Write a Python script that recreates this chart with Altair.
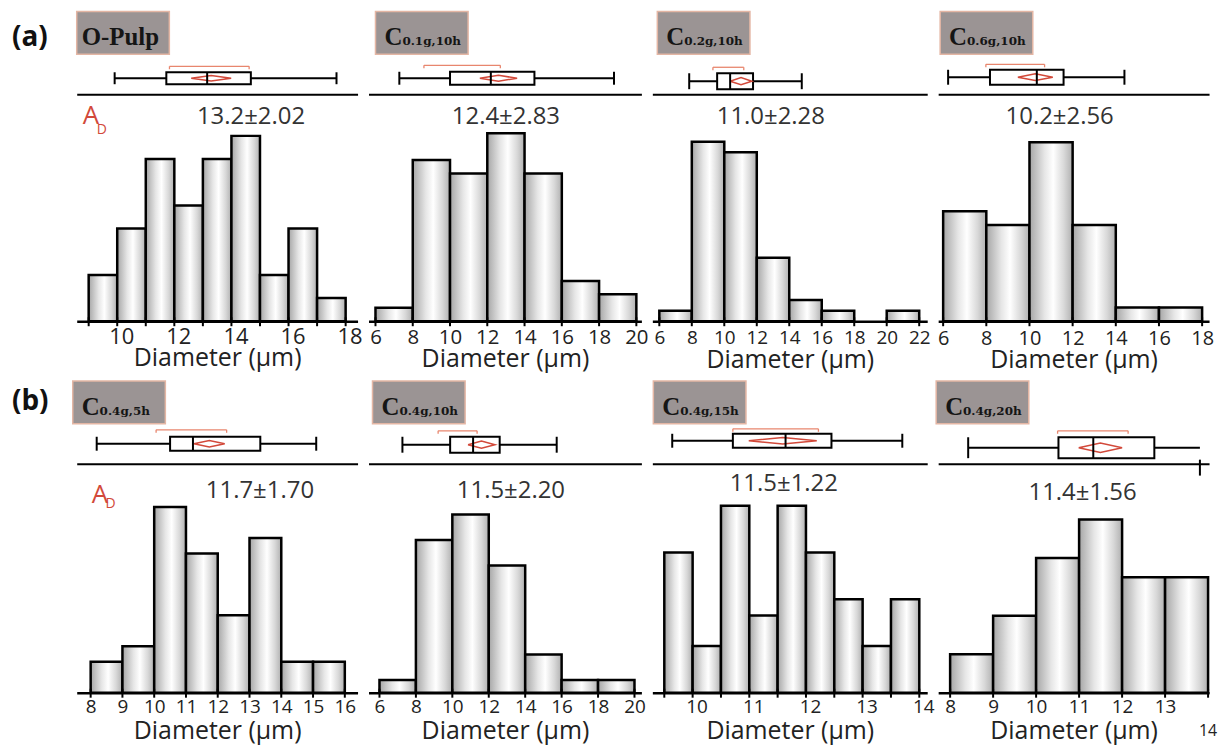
import altair as alt
import pandas as pd

# ---------------- data ----------------
panel_names = ["O-Pulp", "C", "C", "C", "C", "C", "C", "C"]
panel_subs = ["", "0.1g,10h", "0.2g,10h", "0.6g,10h", "0.4g,5h", "0.4g,10h", "0.4g,15h", "0.4g,20h"]
mean_sd = ["13.2±2.02", "12.4±2.83", "11.0±2.28", "10.2±2.56",
           "11.7±1.70", "11.5±2.20", "11.5±1.22", "11.4±1.56"]

edges_1 = [9, 10, 11, 12, 13, 14, 15, 16, 17, 18]
counts_1 = [2, 4, 7, 5, 7, 8, 2, 4, 1]
edges_2 = [6, 8, 10, 12, 14, 16, 18, 20]
counts_2 = [1, 12, 11, 14, 11, 3, 2]
edges_3 = [6, 8, 10, 12, 14, 16, 18, 20, 22]
counts_3 = [1, 17, 16, 6, 2, 1, 0, 1]
edges_4 = [6, 8, 10, 12, 14, 16, 18]
counts_4 = [8, 7, 13, 7, 1, 1]
edges_5 = [8, 9, 10, 11, 12, 13, 14, 15, 16]
counts_5 = [2, 3, 12, 9, 5, 10, 2, 2]
edges_6 = [6, 8, 10, 12, 14, 16, 18, 20]
counts_6 = [1, 12, 14, 10, 3, 1, 1]
edges_7 = [9.5, 10, 10.5, 11, 11.5, 12, 12.5, 13, 13.5, 14]
counts_7 = [6, 2, 8, 3.3, 8, 6, 4, 2, 4]
edges_8 = [8, 9, 10, 11, 12, 13, 14]
counts_8 = [2, 4, 7, 9, 6, 6]

tick_labels_1 = [10, 12, 14, 16, 18]
tick_labels_2 = [6, 8, 10, 12, 14, 16, 18, 20]
tick_labels_3 = [6, 8, 10, 12, 14, 16, 18, 20, 22]
tick_labels_4 = [6, 8, 10, 12, 14, 16, 18]
tick_labels_5 = [8, 9, 10, 11, 12, 13, 14, 15, 16]
tick_labels_6 = [6, 8, 10, 12, 14, 16, 18, 20]
tick_labels_7 = [10, 11, 12, 13, 14]
tick_labels_8 = [8, 9, 10, 11, 12, 13]
extra_label_8 = [14]

# box plots: whisker low, Q1, median, Q3, whisker high
box_1 = [9.91, 11.72, 13.15, 14.68, 17.68]
box_2 = [7.28, 10.0, 12.19, 14.53, 18.8]
box_3 = [7.84, 9.56, 10.36, 11.77, 14.77]
box_4 = [6.23, 8.17, 10.34, 11.58, 14.4]
box_5 = [8.19, 10.5, 11.22, 13.34, 15.1]
box_6 = [7.26, 9.88, 11.14, 12.6, 15.73]
box_7 = [9.64, 10.71, 11.64, 12.45, 13.7]
box_8 = [8.42, 10.52, 11.33, 12.75, 13.81]
# mean diamonds (low, high) and shortest-half brackets (low, high)
diamond_1 = [12.59, 13.99]; bracket_1 = [11.83, 14.62]
diamond_2 = [11.6, 13.6];   bracket_2 = [8.6, 12.7]
diamond_3 = [10.36, 11.7];  bracket_3 = [9.3, 11.2]
diamond_4 = [9.46, 11.08];  bracket_4 = [7.98, 10.7]
diamond_5 = [11.25, 12.22]; bracket_5 = [10.06, 12.28]
diamond_6 = [10.86, 12.34]; bracket_6 = [9.22, 11.36]
diamond_7 = [10.99, 12.19]; bracket_7 = [10.71, 12.22]
diamond_8 = [10.99, 12.0];  bracket_8 = [10.5, 12.14]

edges = [edges_1, edges_2, edges_3, edges_4, edges_5, edges_6, edges_7, edges_8]
counts = [counts_1, counts_2, counts_3, counts_4, counts_5, counts_6, counts_7, counts_8]
tick_labels = [tick_labels_1, tick_labels_2, tick_labels_3, tick_labels_4,
               tick_labels_5, tick_labels_6, tick_labels_7, tick_labels_8]
boxes = [box_1, box_2, box_3, box_4, box_5, box_6, box_7, box_8]
diamonds = [diamond_1, diamond_2, diamond_3, diamond_4, diamond_5, diamond_6, diamond_7, diamond_8]
brackets = [bracket_1, bracket_2, bracket_3, bracket_4, bracket_5, bracket_6, bracket_7, bracket_8]

# ---------------- layout / style ----------------
col_left = [77, 370, 655, 942]          # page x of each column's plot area
col_width = [282, 274, 276, 272]
# scale anchors measured on the figure: (value, page x, px per unit)
anchors = [(9, 89, 28.67), (6, 377, 18.71), (6, 662, 16.31), (6, 947, 21.67),
           (8, 91, 31.9), (6, 381, 18.29), (9.5, 667, 56.9), (8, 954, 43.17)]
y_max = [9.8, 16.9, 21.5, 16.5, 14.8, 18.0, 9.8, 11.9]
label_left = [0, 7, 5, 2, -4, 4, 1, -2]
mean_pos = [(175, 23), (138, 23), (119, 23), (122, 23), (184, 27), (143, 27), (132, 20), (145, 29)]
box_center = [67, 67, 70, 66, 63, 64, 60, 67]
box_half = [6, 6.5, 8, 7.5, 7, 8, 7, 10.5]
bracket_y = [55, 54, 56, 53, 49, 50, 48, 50]
label_offsets = [4, 0, 0, 0, 0, 0, 4, 0]
label_sizes = [22, 20.5, 19, 20, 19, 19, 19, 19]
label_pad = [5, 6, 7, 7, 5, 5, 5, 5]
title_pad = [-2, -1, 0, -1, 2, 2, 2, 2]
TOP_H = 83
ROW_GAP = 60
HIST_H = [228, 230]
SANS = "Open Sans"
RED = "#d2493a"
SALMON = "#e8866e"

grad = alt.LinearGradient(
    gradient="linear", x1=0, x2=1, y1=0, y2=0,
    stops=[alt.GradientStop(color="#a6a6a6", offset=0),
           alt.GradientStop(color="#e6e6e6", offset=0.35),
           alt.GradientStop(color="#ffffff", offset=0.55),
           alt.GradientStop(color="#d8d8d8", offset=0.8),
           alt.GradientStop(color="#b0b0b0", offset=1)])

one = pd.DataFrame({"k": [0]})


def x_domain(i):
    col = i % 4
    v0, p0, k = anchors[i]
    left = col_left[col]
    right = left + col_width[col]
    return [v0 + (left - p0) / k, v0 + (right - p0) / k]


def top_chart(i):
    row = i // 4
    off = 0 if row == 0 else ROW_GAP
    th = TOP_H + off
    w = col_width[i % 4]
    xs = alt.Scale(domain=x_domain(i), nice=False, zero=False)
    top_axis = alt.Axis(title=None, labels=False, ticks=False, grid=False,
                        domain=True, domainColor="black", domainWidth=2)

    def xt(f):
        return alt.X(f, type="quantitative", scale=xs, axis=top_axis)

    lo, q1, med, q3, hi = boxes[i]
    c = box_center[i] + off
    hh = box_half[i]
    dh = hh * 0.45
    dlo, dhi = diamonds[i]
    dm = (dlo + dhi) / 2
    blo, bhi = brackets[i]
    by = bracket_y[i] + off
    bl = label_left[i]

    layers = []
    layers.append(alt.Chart(one).mark_rect(fill="#9b9494", stroke="#e4b6a4", strokeWidth=1.5).encode(
        x=alt.value(bl), x2=alt.value(bl + 93), y=alt.value(off), y2=alt.value(off + 43)))
    if panel_subs[i] == "":
        layers.append(alt.Chart(pd.DataFrame({"t": [panel_names[i]]})).mark_text(
            align="left", baseline="alphabetic", font="Liberation Serif", fontWeight="bold",
            fontSize=25, color="#151515").encode(x=alt.value(bl + 5), y=alt.value(off + 34), text="t:N"))
    else:
        layers.append(alt.Chart(pd.DataFrame({"t": [panel_names[i]]})).mark_text(
            align="left", baseline="alphabetic", font="Liberation Serif", fontWeight="bold",
            fontSize=25, color="#151515").encode(x=alt.value(bl + 9), y=alt.value(off + 34), text="t:N"))
        layers.append(alt.Chart(pd.DataFrame({"t": [panel_subs[i]]})).mark_text(
            align="left", baseline="alphabetic", font="DejaVu Serif", fontWeight="bold",
            fontSize=12, color="#151515").encode(x=alt.value(bl + 27), y=alt.value(off + 34), text="t:N"))
    if i in (0, 4):
        layers.append(alt.Chart(pd.DataFrame({"t": ["(a)" if i == 0 else "(b)"]})).mark_text(
            align="left", baseline="alphabetic", font=SANS, fontWeight="bold", fontSize=28,
            color="#111").encode(x=alt.value(-65), y=alt.value(off + (35 if i == 0 else 29)), text="t:N"))

    # whisker line
    layers.append(alt.Chart(pd.DataFrame({"a": [lo], "b": [hi]})).mark_rule(
        color="black", strokeWidth=2).encode(x=xt("a"), x2="b:Q", y=alt.value(c)))
    caps = [lo, hi] if i != 7 else [lo]
    layers.append(alt.Chart(pd.DataFrame({"a": caps})).mark_rule(
        color="black", strokeWidth=2).encode(x=xt("a"), y=alt.value(c - hh), y2=alt.value(c + hh)))
    if i == 7:
        layers.append(alt.Chart(pd.DataFrame({"a": [hi]})).mark_rule(
            color="black", strokeWidth=2).encode(x=xt("a"), y=alt.value(th - 4), y2=alt.value(th + 12)))
    # box
    layers.append(alt.Chart(pd.DataFrame({"a": [q1], "b": [q3]})).mark_rect(
        fill="white", stroke="black", strokeWidth=2).encode(
        x=xt("a"), x2="b:Q", y=alt.value(c - hh), y2=alt.value(c + hh)))
    # mean diamond
    ddf = pd.DataFrame({"a": [dlo, dm, dhi, dm, dlo],
                        "p": [c, c - dh, c, c + dh, c], "o": [0, 1, 2, 3, 4]})
    layers.append(alt.Chart(ddf).mark_line(color=RED, strokeWidth=1.5).encode(
        x=xt("a"), y=alt.Y("p:Q", scale=alt.Scale(domain=[0, th], reverse=True), axis=None),
        order="o:Q"))
    # median
    layers.append(alt.Chart(pd.DataFrame({"a": [med]})).mark_rule(
        color="black", strokeWidth=2).encode(x=xt("a"), y=alt.value(c - hh), y2=alt.value(c + hh)))
    # bracket
    layers.append(alt.Chart(pd.DataFrame({"a": [blo], "b": [bhi]})).mark_rule(
        color=SALMON, strokeWidth=1.3).encode(x=xt("a"), x2="b:Q", y=alt.value(by)))
    layers.append(alt.Chart(pd.DataFrame({"a": [blo, bhi]})).mark_rule(
        color=SALMON, strokeWidth=1.3).encode(x=xt("a"), y=alt.value(by), y2=alt.value(by + 3)))

    return alt.layer(*layers).properties(width=w, height=th)


def hist_chart(i):
    row = i // 4
    hist_h = HIST_H[row]
    w = col_width[i % 4]
    xs = alt.Scale(domain=x_domain(i), nice=False, zero=False)
    hist_axis = alt.Axis(values=tick_labels[i], ticks=False, grid=False, domain=True,
                         domainColor="black", domainWidth=2.5, labelFont=SANS,
                         labelFontSize=label_sizes[i], labelColor="#222", labelPadding=label_pad[i],
                         labelFlush=False, labelOverlap=False, labelBound=False,
                         labelOffset=label_offsets[i],
                         title="Diameter (µm)", titleFont=SANS, titleFontSize=25,
                         titleFontWeight="normal", titleColor="#222", titlePadding=title_pad[i])

    def xh(f):
        return alt.X(f, type="quantitative", scale=xs, axis=hist_axis)

    e = edges[i]
    hdf = pd.DataFrame({"x0": e[:-1], "x1": e[1:], "n": counts[i], "z": [0] * len(counts[i])})
    hdf = hdf[hdf["n"] > 0]
    hl = []
    hl.append(alt.Chart(hdf).mark_rect(fill=grad, stroke="black", strokeWidth=2.5).encode(
        x=xh("x0"), x2="x1:Q",
        y=alt.Y("n:Q", scale=alt.Scale(domain=[0, y_max[i]], nice=False, zero=True), axis=None),
        y2="z:Q"))
    hl.append(alt.Chart(pd.DataFrame({"a": e})).mark_rule(color="black", strokeWidth=2).encode(
        x=xh("a"), y=alt.value(hist_h - 4), y2=alt.value(hist_h + 5)))
    mx, my = mean_pos[i]
    hl.append(alt.Chart(pd.DataFrame({"t": [mean_sd[i]]})).mark_text(
        font=SANS, fontSize=24, color="#333", align="center", baseline="middle").encode(
        x=alt.value(mx), y=alt.value(my), text="t:N"))
    if i in (0, 4):
        ax, ay, dx, dy = (6, 30, 20, 40) if i == 0 else (15, 40, 29, 45)
        hl.append(alt.Chart(pd.DataFrame({"t": ["A"]})).mark_text(
            font=SANS, fontSize=26, color=RED, align="left", baseline="alphabetic").encode(
            x=alt.value(ax), y=alt.value(ay), text="t:N"))
        hl.append(alt.Chart(pd.DataFrame({"t": ["D"]})).mark_text(
            font=SANS, fontSize=14, color=RED, align="left", baseline="alphabetic").encode(
            x=alt.value(dx), y=alt.value(dy), text="t:N"))
    if i == 7:
        hl.append(alt.Chart(pd.DataFrame({"a": extra_label_8, "t": [str(v) for v in extra_label_8]})).mark_text(
            font=SANS, fontSize=16, color="#222", align="center", baseline="middle").encode(
            x=xh("a"), y=alt.value(hist_h + 38), text="t:N"))
    return alt.layer(*hl).properties(width=w, height=hist_h)


cells = ([top_chart(i) for i in range(4)] + [hist_chart(i) for i in range(4)] +
         [top_chart(i) for i in range(4, 8)] + [hist_chart(i) for i in range(4, 8)])

chart = alt.concat(*cells, columns=4, spacing={"row": 0, "column": 11}, bounds="flush").properties(
    padding={"left": 4, "top": 1, "right": 4, "bottom": 4}, background="white"
).configure_view(strokeWidth=0, stroke="transparent")

chart.save("out.html", embed_options={"renderer": "svg", "actions": False})
